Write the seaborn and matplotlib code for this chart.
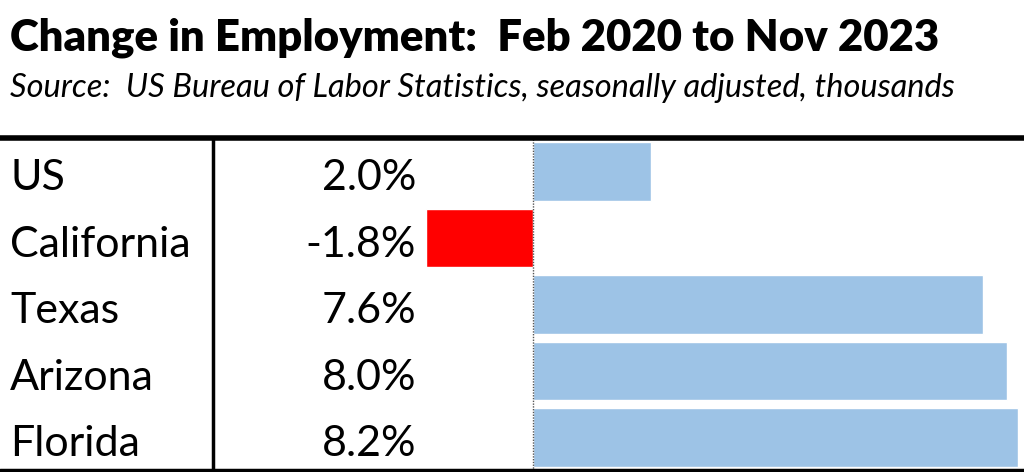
import seaborn as sns
import pandas as pd
import matplotlib.pyplot as plt
from matplotlib.lines import Line2D

regions = ["US", "California", "Texas", "Arizona", "Florida"]
change_pct = [2.0, -1.8, 7.6, 8.0, 8.2]
value_labels = ["2.0%", "-1.8%", "7.6%", "8.0%", "8.2%"]

title = "Change in Employment:  Feb 2020 to Nov 2023"
subtitle = "Source:  US Bureau of Labor Statistics, seasonally adjusted, thousands"

df = pd.DataFrame({"region": regions, "change": change_pct})
colors = {r: ("#ff0000" if v < 0 else "#9dc3e6") for r, v in zip(regions, change_pct)}

sns.set_style("white")
plt.rcParams["font.family"] = ["Lato", "DejaVu Sans"]
plt.rcParams["text.color"] = "black"

W, H = 1024, 472
fig = plt.figure(figsize=(W / 100, H / 100), dpi=100)

# axes spans the whole table area; x scale chosen so zero sits at ~533 px
top_px, bot_px = 138, 471
ax = fig.add_axes([0, 1 - bot_px / H, 1, (bot_px - top_px) / H])
sns.barplot(data=df, x="change", y="region", hue="region", palette=colors,
            orient="h", width=0.88, legend=False, ax=ax, saturation=1)
px_per_unit = 59.2
ax.set_xlim(-533 / px_per_unit, (W - 533) / px_per_unit)
ax.set_ylim(len(regions) - 0.5, -0.5)
ax.axvline(0, color="#555555", lw=1, ls=(0, (1, 1)))
ax.set_axis_off()

# row labels and values (baseline a bit below row centre)
trans = ax.get_yaxis_transform()
for i, (r, lab) in enumerate(zip(regions, value_labels)):
    ax.text(10 / W, i + 0.28, r, transform=trans, ha="left", va="baseline", fontsize=31)
    ax.text(416 / W, i + 0.28, lab, transform=trans, ha="right", va="baseline", fontsize=31)

# table rules
fig.add_artist(Line2D([0, 1], [1 - 138 / H, 1 - 138 / H], color="black", lw=4))
fig.add_artist(Line2D([0, 1], [1 - 470 / H, 1 - 470 / H], color="black", lw=2.5))
fig.add_artist(Line2D([213 / W, 213 / W], [1 - 138 / H, 1 - 470 / H], color="black", lw=2.5))

fig.text(10 / W, 1 - 51 / H, title, fontsize=31.5, fontweight="heavy", ha="left", va="baseline")
fig.text(10 / W, 1 - 97 / H, subtitle, fontsize=23.5, style="italic", ha="left", va="baseline")

plt.savefig("out.png", dpi=100)
